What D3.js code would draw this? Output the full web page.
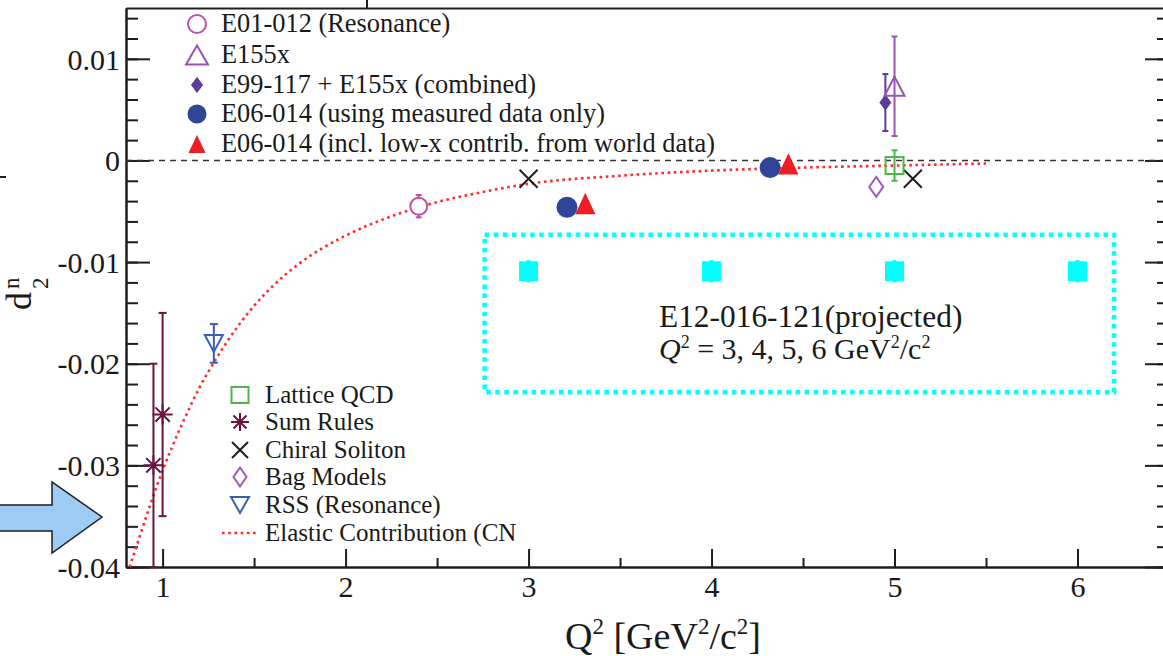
<!DOCTYPE html>
<html><head><meta charset="utf-8">
<script src="https://cdn.jsdelivr.net/npm/d3@7"></script>
<style>
html,body{margin:0;padding:0;background:#fff;}
svg{display:block;}
text{font-family:"Liberation Serif","Times New Roman",serif;fill:#1a1a1a;}
</style></head><body>
<svg id="chart" width="1163" height="656"></svg>
<script>
// ---------------- data ----------------
const xTickValues = [1, 2, 3, 4, 5, 6];
const xTickLabels = ["1", "2", "3", "4", "5", "6"];
const yTickValues = [-0.04, -0.03, -0.02, -0.01, 0, 0.01];
const yTickLabels = ["-0.04", "-0.03", "-0.02", "-0.01", "0", "0.01"];

// experiments: Q^2 [GeV^2/c^2], d2n, symmetric uncertainty
const e01012 = [{q2: 2.40, d2: -0.0045, err: 0.0011}];
const e155x = [{q2: 5.00, d2: 0.0073, err: 0.0049}];
const e99117Combined = [{q2: 4.95, d2: 0.0057, err: 0.0028}];
const e06014Measured = [{q2: 3.21, d2: -0.0046}, {q2: 4.32, d2: -0.0007}];
const e06014World = [{q2: 3.31, d2: -0.0043}, {q2: 4.42, d2: -0.0004}];

// theory
const latticeQCD = [{q2: 5.00, d2: -0.0005, err: 0.0015}];
const sumRules = [{q2: 0.95, d2: -0.030, err: 0.010}, {q2: 1.00, d2: -0.025, err: 0.010}];
const chiralSoliton = [{q2: 3.00, d2: -0.0018}, {q2: 5.10, d2: -0.0018}];
const bagModels = [{q2: 4.90, d2: -0.0026}];
const rssResonance = [{q2: 1.28, d2: -0.0180, err: 0.0019}];

// elastic contribution (CN)
const elasticQ2 = [0.82, 0.87, 0.93, 1.00, 1.10, 1.20, 1.30, 1.40, 1.50, 1.60, 1.75, 2.00, 2.25, 2.50, 2.75, 3.00, 3.50, 4.00, 4.50, 5.00, 5.50];
const elasticD2 = [-0.0400, -0.0373, -0.0340, -0.0305, -0.0262, -0.0224, -0.0193, -0.0166, -0.0143, -0.0124, -0.0101, -0.0074, -0.0055, -0.0041, -0.0031, -0.0023, -0.0015, -0.0010, -0.0007, -0.0005, -0.0003];

// projected points
const projectedQ2 = [3, 4, 5, 6];
const projectedD2 = [-0.0109, -0.0109, -0.0109, -0.0109];
const projectedErr = [0.0010, 0.0010, 0.0010, 0.0010];

// ---------------- layout ----------------
const svg = d3.select("#chart");
const X0 = 126, X1 = 1169, Y0 = 567, Y1 = 8;
const x = d3.scaleLinear().domain([0.8, 6.5]).range([X0, X1]);
const y = d3.scaleLinear().domain([-0.04, 0.015]).range([Y0, Y1]);

const C = {
  e01: "#c04fae", e155: "#9a52b4", comb: "#5b3c9b", blue: "#2f4597", red: "#ee1d24",
  lattice: "#49b74a", sum: "#6a1340", chiral: "#1e1e1e", bag: "#a15bb8", rss: "#3b5db3",
  elastic: "#ff2b2b", cyan: "#00ffff", axis: "#1e1e1e"
};

// symbol path builders
function shape(kind, a, b) {
  const p = d3.path();
  switch (kind) {
    case "circle": p.arc(0, 0, a, 0, 2 * Math.PI); break;
    case "triUp": p.moveTo(0, -b / 2); p.lineTo(a / 2, b / 2); p.lineTo(-a / 2, b / 2); p.closePath(); break;
    case "triDown": p.moveTo(0, b / 2); p.lineTo(a / 2, -b / 2); p.lineTo(-a / 2, -b / 2); p.closePath(); break;
    case "diamond": p.moveTo(0, -b / 2); p.lineTo(a / 2, 0); p.lineTo(0, b / 2); p.lineTo(-a / 2, 0); p.closePath(); break;
    case "square": p.rect(-a / 2, -b / 2, a, b); break;
    case "times": p.moveTo(-a, -a); p.lineTo(a, a); p.moveTo(-a, a); p.lineTo(a, -a); break;
    case "star": {
      p.moveTo(-a, 0); p.lineTo(a, 0); p.moveTo(0, -a); p.lineTo(0, a);
      const d = a * 0.72; p.moveTo(-d, -d); p.lineTo(d, d); p.moveTo(-d, d); p.lineTo(d, -d); break;
    }
  }
  return p.toString();
}

// ---------------- axes ----------------
const axisStyle = g => {
  g.attr("font-family", null);
  g.selectAll("path.domain").attr("stroke", C.axis).attr("stroke-width", 2);
  g.selectAll(".tick line").attr("stroke", C.axis).attr("stroke-width", 2);
  g.selectAll("text").attr("fill", "#1a1a1a");
};

const yMinor = d3.range(-20, 8).map(i => i * 0.002);
const xMinor = [1.5, 2.5, 3.5, 4.5, 5.5];

// left
svg.append("g").attr("transform", `translate(${X0},0)`)
  .call(d3.axisLeft(y).tickValues(yMinor).tickSizeInner(-12).tickSizeOuter(0).tickFormat(""))
  .call(axisStyle);
svg.append("g").attr("transform", `translate(${X0},0)`)
  .call(d3.axisLeft(y).tickValues(yTickValues).tickSizeInner(-24).tickSizeOuter(0).tickPadding(6)
    .tickFormat((d, i) => yTickLabels[i]))
  .call(axisStyle)
  .call(g => g.selectAll("text").attr("font-size", 30).attr("dy", "0.34em"));
// right (mirror)
svg.append("g").attr("transform", `translate(${X1},0)`)
  .call(d3.axisRight(y).tickValues(yMinor).tickSizeInner(-12).tickSizeOuter(0).tickFormat(""))
  .call(axisStyle);
svg.append("g").attr("transform", `translate(${X1},0)`)
  .call(d3.axisRight(y).tickValues(yTickValues).tickSizeInner(-24).tickSizeOuter(0).tickFormat(""))
  .call(axisStyle);
// bottom
svg.append("g").attr("transform", `translate(0,${Y0})`)
  .call(d3.axisBottom(x).tickValues(xMinor).tickSizeInner(-9).tickSizeOuter(0).tickFormat(""))
  .call(axisStyle);
svg.append("g").attr("transform", `translate(0,${Y0})`)
  .call(d3.axisBottom(x).tickValues(xTickValues).tickSizeInner(-18).tickSizeOuter(0).tickPadding(9)
    .tickFormat((d, i) => xTickLabels[i]))
  .call(axisStyle)
  .call(g => g.selectAll("text").attr("font-size", 30));
// top frame line
svg.append("g").attr("transform", `translate(0,${Y1})`)
  .call(d3.axisTop(x).tickValues([]).tickSizeOuter(0))
  .call(axisStyle);

// axis titles
const xt = svg.append("text").attr("x", 663).attr("y", 649).attr("text-anchor", "middle").attr("font-size", 38);
xt.append("tspan").text("Q");
xt.append("tspan").attr("font-size", 23).attr("dy", -15).text("2");
xt.append("tspan").attr("dy", 15).text(" [GeV");
xt.append("tspan").attr("font-size", 23).attr("dy", -15).text("2");
xt.append("tspan").attr("dy", 15).text("/c");
xt.append("tspan").attr("font-size", 23).attr("dy", -15).text("2");
xt.append("tspan").attr("dy", 15).text("]");

const yt = svg.append("g").attr("transform", "translate(31,310) rotate(-90)");
yt.append("text").attr("x", 0).attr("y", 0).attr("font-size", 36).text("d");
yt.append("text").attr("x", 21).attr("y", -12).attr("font-size", 23).text("n");
yt.append("text").attr("x", 21).attr("y", 17).attr("font-size", 23).text("2");

// zero reference line
svg.append("line").attr("x1", x(0.8)).attr("x2", x(6.5)).attr("y1", y(0)).attr("y2", y(0))
  .attr("stroke", "#333").attr("stroke-width", 1.5).attr("stroke-dasharray", "6,5");

// ---------------- plot content ----------------
const plot = svg.append("g");

// elastic curve
const elastic = elasticQ2.map((q, i) => ({q2: q, d2: elasticD2[i]}));
plot.append("path").datum(elastic)
  .attr("d", d3.line().x(d => x(d.q2)).y(d => y(d.d2)).curve(d3.curveMonotoneX))
  .attr("fill", "none").attr("stroke", C.elastic).attr("stroke-width", 2.6)
  .attr("stroke-dasharray", "2.6,3.6");

// projected region box
const boxQ2 = [2.76, 6.20], boxD2 = [-0.0228, -0.0073];
plot.append("rect")
  .attr("x", x(boxQ2[0])).attr("y", y(boxD2[1]))
  .attr("width", x(boxQ2[1]) - x(boxQ2[0])).attr("height", y(boxD2[0]) - y(boxD2[1]))
  .attr("fill", "none").attr("stroke", C.cyan).attr("stroke-width", 4.5).attr("stroke-dasharray", "4.5,4.6");

function errorBars(data, color, cap) {
  const g = plot.append("g").attr("stroke", color).attr("stroke-width", 2);
  data.forEach(d => {
    const lo = Math.max(d.d2 - d.err, -0.04), hi = d.d2 + d.err;
    g.append("line").attr("x1", x(d.q2)).attr("x2", x(d.q2)).attr("y1", y(lo)).attr("y2", y(hi));
    g.append("line").attr("x1", x(d.q2) - cap).attr("x2", x(d.q2) + cap).attr("y1", y(hi)).attr("y2", y(hi));
    if (d.d2 - d.err >= -0.04) g.append("line").attr("x1", x(d.q2) - cap).attr("x2", x(d.q2) + cap).attr("y1", y(lo)).attr("y2", y(lo));
  });
}
function markers(data, path, stroke, fill, sw) {
  plot.append("g").selectAll("path").data(data).join("path")
    .attr("transform", d => `translate(${x(d.q2)},${y(d.d2)})`)
    .attr("d", path).attr("stroke", stroke).attr("fill", fill).attr("stroke-width", sw || 2);
}

// projected points
const projected = projectedQ2.map((q, i) => ({q2: q, d2: projectedD2[i], err: projectedErr[i]}));
errorBars(projected, C.cyan, 2);
markers(projected, shape("square", 17, 18), C.cyan, C.cyan);

errorBars(sumRules, C.sum, 4);
markers(sumRules, shape("star", 10), C.sum, "none", 2);
errorBars(rssResonance, C.rss, 4);
markers(rssResonance, shape("triDown", 18, 17), C.rss, "none", 2);
errorBars(e01012, C.e01, 3);
markers(e01012, shape("circle", 8.5), C.e01, "#fff", 2);
markers(chiralSoliton, shape("times", 9), C.chiral, "none", 2);
markers(e06014Measured, shape("circle", 9.5), C.blue, C.blue, 0);
markers(e06014World, shape("triUp", 17, 18), C.red, C.red, 0);
errorBars(e99117Combined, C.comb, 3);
markers(e99117Combined, shape("diamond", 11, 15), C.comb, C.comb, 1);
errorBars(e155x, C.e155, 3);
markers(e155x, shape("triUp", 20, 19), C.e155, "none", 2);
errorBars(latticeQCD, C.lattice, 3);
markers(latticeQCD, shape("square", 18, 17), C.lattice, "none", 2);
markers(bagModels, shape("diamond", 14, 20), C.bag, "none", 2);

// projected annotation
const ann = svg.append("g");
ann.append("text").attr("x", 659).attr("y", 327).attr("font-size", 31.4).text("E12-016-121(projected)");
const ann2 = ann.append("text").attr("x", 659).attr("y", 359).attr("font-size", 30);
ann2.append("tspan").attr("font-style", "italic").text("Q");
ann2.append("tspan").attr("font-size", 18).attr("dy", -11).text("2");
ann2.append("tspan").attr("dy", 11).text(" = 3, 4, 5, 6 GeV");
ann2.append("tspan").attr("font-size", 18).attr("dy", -11).text("2");
ann2.append("tspan").attr("dy", 11).text("/c");
ann2.append("tspan").attr("font-size", 18).attr("dy", -11).text("2");

// ---------------- legends ----------------
const legendTop = [
  {label: "E01-012 (Resonance)", d: shape("circle", 9), stroke: C.e01, fill: "none", sw: 2},
  {label: "E155x", d: shape("triUp", 22, 19), stroke: C.e155, fill: "none", sw: 2},
  {label: "E99-117 + E155x (combined)", d: shape("diamond", 11, 15), stroke: C.comb, fill: C.comb, sw: 1},
  {label: "E06-014 (using measured data only)", d: shape("circle", 9.5), stroke: C.blue, fill: C.blue, sw: 0},
  {label: "E06-014 (incl. low-x contrib. from world data)", d: shape("triUp", 17, 18), stroke: C.red, fill: C.red, sw: 0}
];
const ltY = [24, 55, 85, 114, 144];
const lt = svg.append("g");
legendTop.forEach((it, i) => {
  lt.append("path").attr("transform", `translate(197,${ltY[i]})`).attr("d", it.d)
    .attr("stroke", it.stroke).attr("fill", it.fill).attr("stroke-width", it.sw);
  lt.append("text").attr("x", 221).attr("y", ltY[i] + 8).attr("font-size", 26.4).text(it.label);
});

const legendBottom = [
  {label: "Lattice QCD", d: shape("square", 17, 16), stroke: C.lattice},
  {label: "Sum Rules", d: shape("star", 9), stroke: C.sum},
  {label: "Chiral Soliton", d: shape("times", 8), stroke: C.chiral},
  {label: "Bag Models", d: shape("diamond", 13, 19), stroke: C.bag},
  {label: "RSS (Resonance)", d: shape("triDown", 18, 16), stroke: C.rss}
];
const lbY = [395, 422, 450, 477, 505, 533];
const lb = svg.append("g");
legendBottom.forEach((it, i) => {
  lb.append("path").attr("transform", `translate(240,${lbY[i]})`).attr("d", it.d)
    .attr("stroke", it.stroke).attr("fill", "none").attr("stroke-width", 2);
  lb.append("text").attr("x", 265).attr("y", lbY[i] + 8).attr("font-size", 25).text(it.label);
});
lb.append("line").attr("x1", 222).attr("x2", 258).attr("y1", lbY[5]).attr("y2", lbY[5])
  .attr("stroke", C.elastic).attr("stroke-width", 2.6).attr("stroke-dasharray", "2.6,3.6");
lb.append("text").attr("x", 265).attr("y", lbY[5] + 8).attr("font-size", 25).text("Elastic Contribution (CN");

// ---------------- slide decorations ----------------
svg.append("path")
  .attr("d", "M-3,505 L52,505 L52,482 L102,517 L52,553 L52,531 L-3,531 Z")
  .attr("fill", "#9dcbf4").attr("stroke", "#1e1e1e").attr("stroke-width", 1.5);
svg.append("line").attr("x1", 0).attr("x2", 6).attr("y1", 177).attr("y2", 177).attr("stroke", "#1e1e1e").attr("stroke-width", 2);
svg.append("line").attr("x1", 367).attr("x2", 367).attr("y1", 0).attr("y2", 8).attr("stroke", "#1e1e1e").attr("stroke-width", 2);
</script>
</body></html>
